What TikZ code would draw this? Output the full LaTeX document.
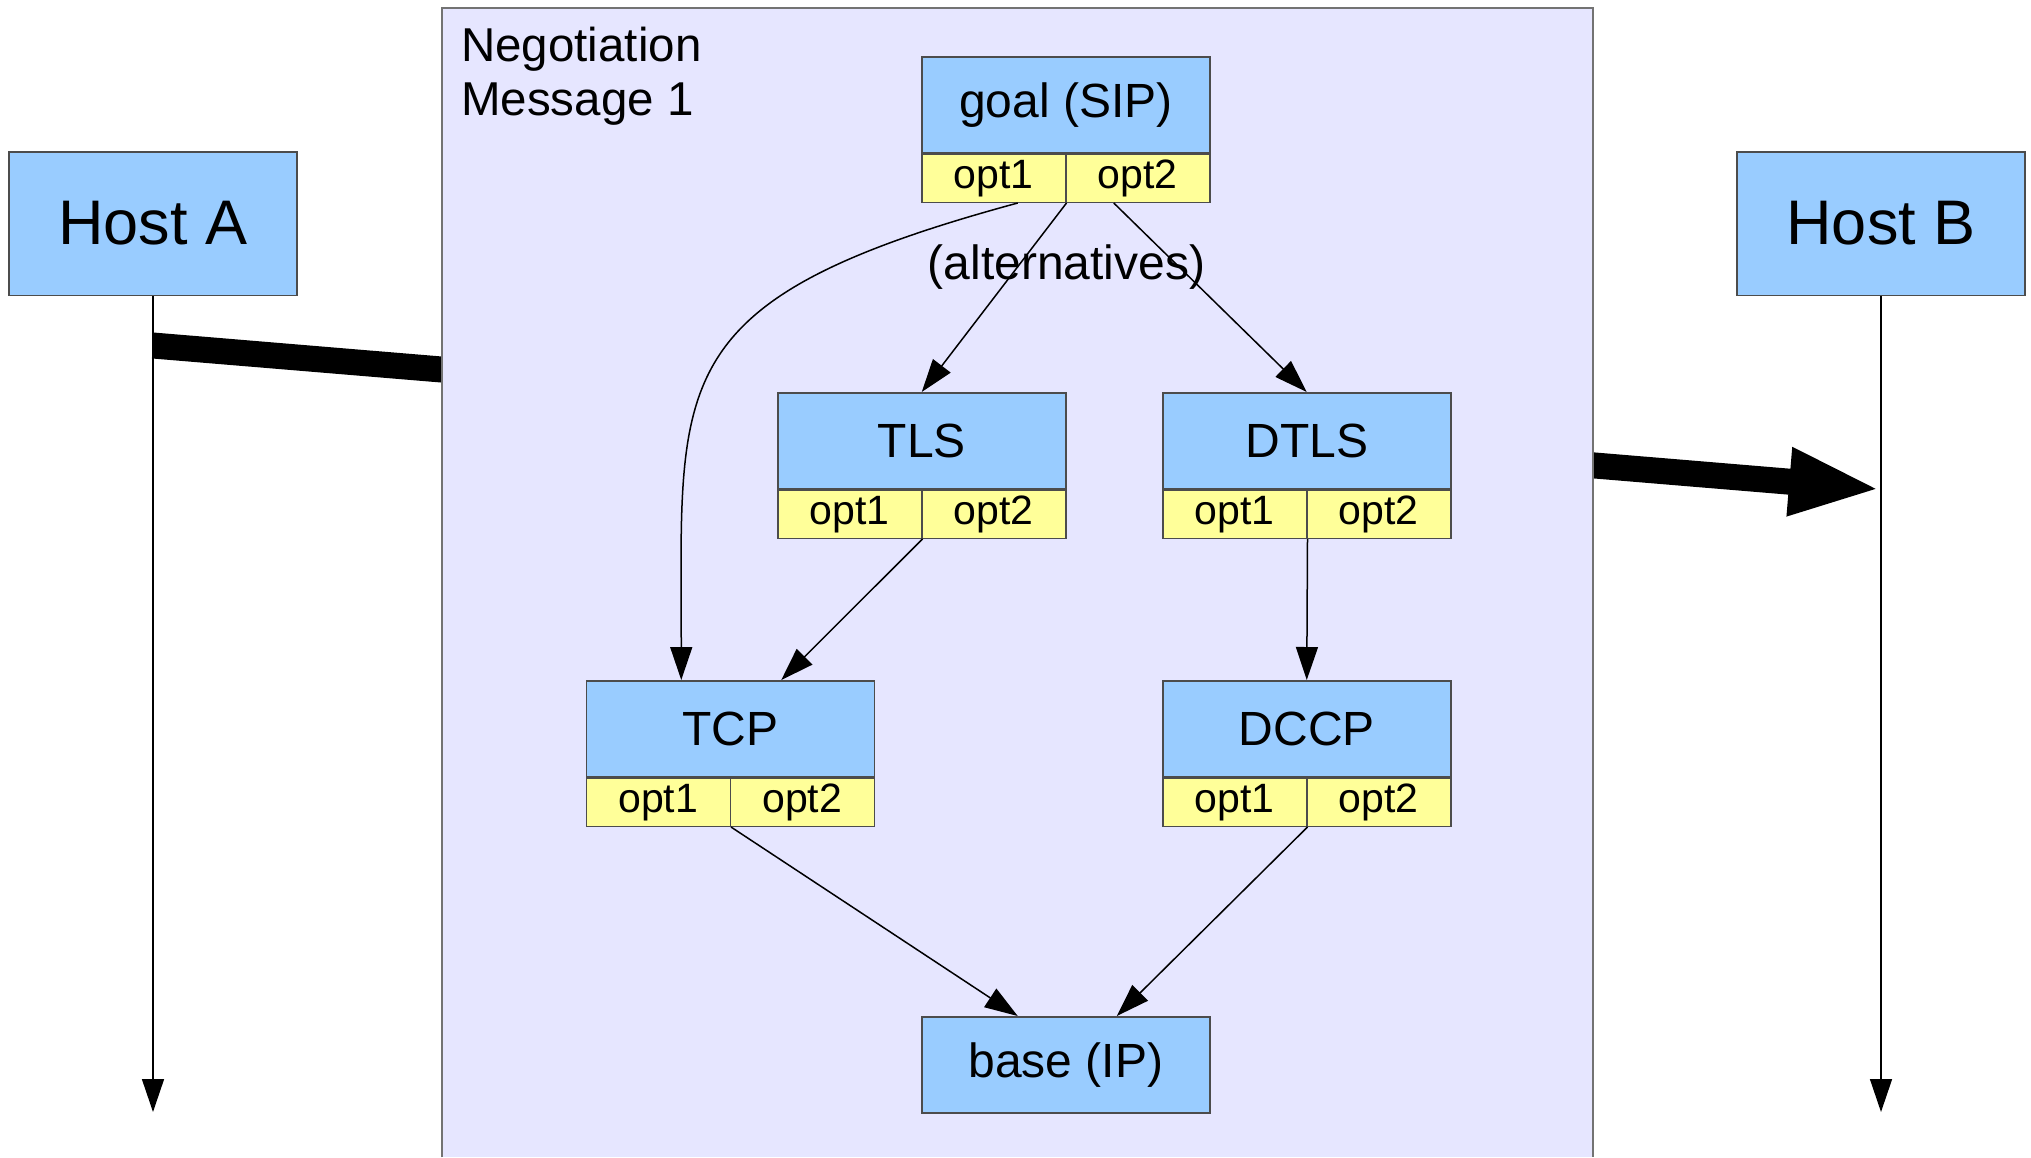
\documentclass[tikz,border=0pt]{standalone}
\usepackage{fontspec}
\setmainfont{Liberation Sans}
\usetikzlibrary{arrows.meta,calc}

\definecolor{protoblue}{RGB}{153,204,255}
\definecolor{optyellow}{RGB}{255,255,153}
\definecolor{negbg}{RGB}{230,230,255}

\tikzset{
  hostbox/.style={rectangle, draw=black!70, line width=1.5pt, fill=protoblue,
    minimum width=288pt, minimum height=143.5pt, inner sep=0pt,
    font=\fontsize{63}{76}\selectfont},
  protobox/.style={rectangle, draw=black!70, line width=1.5pt, fill=protoblue,
    minimum width=288pt, minimum height=96pt, inner sep=0pt,
    font=\fontsize{48}{58}\selectfont},
  optcell/.style={rectangle, draw=black!70, line width=1.5pt, fill=optyellow,
    minimum width=144pt, minimum height=48pt, inner sep=0pt,
    font=\fontsize{41}{49}\selectfont},
  negbox/.style={rectangle, fill=negbg, inner sep=0pt, anchor=north west,
    minimum width=1151.3pt, minimum height=1149pt},
  thinarrow/.style={line width=1.5pt, -{Triangle[length=33pt,width=22pt]}},
  lifeline/.style={line width=1.5pt, -{Triangle[length=33pt,width=22pt]}},
  msgarrow/.style={line width=26pt, -{Triangle[length=92pt,width=62pt]}},
}

\begin{document}
\begin{tikzpicture}[x=1pt,y=-1pt]
\useasboundingbox (0,0) rectangle (2031,1157);

% hosts and their lifelines
\node[hostbox] (hostA) at (153,223.5) {Host A};
\node[hostbox] (hostB) at (1881,223.5) {Host B};
\coordinate (endA) at ($(hostA.south)+(0,816)$);
\coordinate (endB) at ($(hostB.south)+(0,816)$);
\coordinate (msgA) at ($(hostA.south)+(0,49.5)$);
\coordinate (msgB) at ($(hostB.south)+(0,193.3)$);
\draw[lifeline] (hostA.south) -- (endA);
\draw[lifeline] (hostB.south) -- (endB);

% the message travelling from A to B
\draw[msgarrow] (msgA) -- (msgB);

% message container
\node[negbox] (neg) at (441.7,8) {};
\draw[black!55, line width=2pt] (neg.south west) |- (neg.north east) -- (neg.south east);
\node[anchor=north west, inner sep=0pt, align=left,
      font=\fontsize{47.5}{54.5}\selectfont] (negtitle) at (461,26.7)
      {Negotiation\\Message 1};

% protocol stack
\node[protobox, anchor=north west] (goal) at (921,56) {goal (SIP)};
\node[optcell, anchor=north west] (goal1) at (goal.south west) {opt1};
\node[optcell, anchor=north east] (goal2) at (goal.south east) {opt2};

\node[protobox, anchor=north west] (tls) at (777,392) {TLS};
\node[optcell, anchor=north west] (tls1) at (tls.south west) {opt1};
\node[optcell, anchor=north east] (tls2) at (tls.south east) {opt2};

\node[protobox, anchor=north west] (dtls) at (1162,392) {DTLS};
\node[optcell, anchor=north west] (dtls1) at (dtls.south west) {opt1};
\node[optcell, anchor=north east] (dtls2) at (dtls.south east) {opt2};

\node[protobox, anchor=north west] (tcp) at (585.5,680) {TCP};
\node[optcell, anchor=north west] (tcp1) at (tcp.south west) {opt1};
\node[optcell, anchor=north east] (tcp2) at (tcp.south east) {opt2};

\node[protobox, anchor=north west] (dccp) at (1162,680) {DCCP};
\node[optcell, anchor=north west] (dccp1) at (dccp.south west) {opt1};
\node[optcell, anchor=north east] (dccp2) at (dccp.south east) {opt2};

\node[protobox, anchor=north west] (base) at (921,1016) {base (IP)};

\node[anchor=base, inner sep=0pt, font=\fontsize{48}{58}\selectfont]
  (alt) at ($(goal1.south east)+(0,76)$) {(alternatives)};

% dependencies
\draw[thinarrow] ($(goal1.south)+(24,0)$) .. controls (660,300) and ($(tcp.north)+(-49,-300)$) .. ($(tcp.north)+(-49,0)$);
\draw[thinarrow] (goal1.south east) -- (tls.north);
\draw[thinarrow] ($(goal2.south)+(-24,0)$) -- (dtls.north);
\draw[thinarrow] (tls1.south east) -- ($(tcp.north)+(51,0)$);
\draw[thinarrow] (dtls1.south east) -- (dccp.north);
\draw[thinarrow] (tcp1.south east) -- ($(base.north)+(-48,0)$);
\draw[thinarrow] (dccp1.south east) -- ($(base.north)+(51,0)$);
\end{tikzpicture}
\end{document}
